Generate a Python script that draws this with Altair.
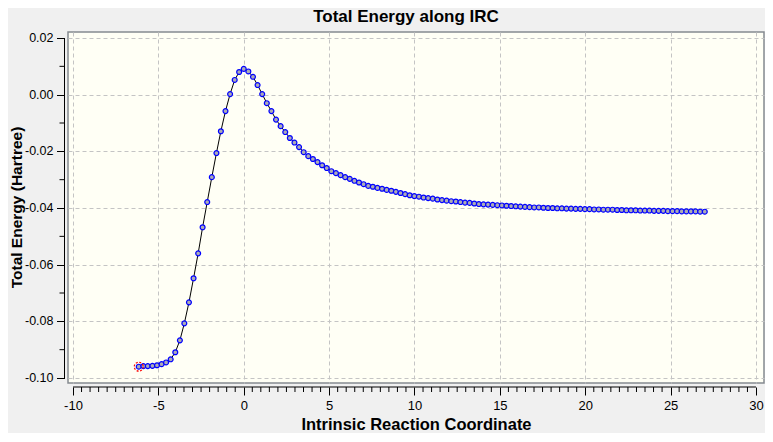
import altair as alt
import pandas as pd

# IRC points before the transition state (reactant side -> TS)
irc_before = [-6.15, -5.88, -5.62, -5.35, -5.08, -4.81, -4.55, -4.28, -4.01, -3.74,
              -3.48, -3.21, -2.94, -2.67, -2.41, -2.14, -1.87, -1.60, -1.34, -1.07,
              -0.80, -0.53, -0.27, 0.00]
energy_before = [-0.0960, -0.0958, -0.0958, -0.0957, -0.0955, -0.0951, -0.0945, -0.0934, -0.0909, -0.0867,
                 -0.0807, -0.0733, -0.0648, -0.0560, -0.0468, -0.0379, -0.0291, -0.0206, -0.0129, -0.0058,
                 0.0002, 0.0052, 0.0080, 0.0091]

# IRC points after the transition state (TS -> product side)
irc_after = [0.27, 0.54, 0.81, 1.08, 1.35, 1.62, 1.89, 2.16, 2.43, 2.70,
             2.97, 3.24, 3.51, 3.78, 4.05, 4.32, 4.59, 4.86, 5.13, 5.40,
             5.67, 5.94, 6.21, 6.48, 6.75, 7.02, 7.29, 7.56, 7.83, 8.10,
             8.37, 8.64, 8.91, 9.18, 9.45, 9.72, 9.99, 10.26, 10.53, 10.80,
             11.07, 11.34, 11.61, 11.88, 12.15, 12.42, 12.69, 12.96, 13.23, 13.50,
             13.77, 14.04, 14.31, 14.58, 14.85, 15.12, 15.39, 15.66, 15.93, 16.20,
             16.47, 16.74, 17.01, 17.28, 17.55, 17.82, 18.09, 18.36, 18.63, 18.90,
             19.17, 19.44, 19.71, 19.98, 20.25, 20.52, 20.79, 21.06, 21.33, 21.60,
             21.87, 22.14, 22.41, 22.68, 22.95, 23.22, 23.49, 23.76, 24.03, 24.30,
             24.57, 24.84, 25.11, 25.38, 25.65, 25.92, 26.19, 26.46, 26.73, 27.00]
energy_after = [0.0082, 0.0063, 0.0034, 0.0002, -0.0030, -0.0058, -0.0088, -0.0111, -0.0132, -0.0153,
                -0.0169, -0.0185, -0.0203, -0.0217, -0.0227, -0.0238, -0.0249, -0.0259, -0.0270, -0.0277,
                -0.0284, -0.0291, -0.0297, -0.0304, -0.0310, -0.0316, -0.0322, -0.0325, -0.0329, -0.0332,
                -0.0336, -0.0339, -0.0343, -0.0347, -0.0351, -0.0355, -0.0358, -0.0360, -0.0363, -0.0365,
                -0.0367, -0.0370, -0.0372, -0.0374, -0.0376, -0.0377, -0.0379, -0.0381, -0.0382, -0.0384,
                -0.0386, -0.0387, -0.0388, -0.0389, -0.0390, -0.0391, -0.0392, -0.0393, -0.0394, -0.0395,
                -0.0396, -0.0397, -0.0398, -0.0398, -0.0399, -0.0400, -0.0400, -0.0401, -0.0401, -0.0402,
                -0.0402, -0.0403, -0.0403, -0.0404, -0.0404, -0.0405, -0.0405, -0.0406, -0.0406, -0.0406,
                -0.0407, -0.0407, -0.0408, -0.0408, -0.0408, -0.0409, -0.0409, -0.0409, -0.0410, -0.0410,
                -0.0410, -0.0411, -0.0411, -0.0411, -0.0412, -0.0412, -0.0412, -0.0412, -0.0413, -0.0413]

# axis tick positions and labels
x_major = [-10, -5, 0, 5, 10, 15, 20, 25, 30]
x_minor = [v / 2 for v in range(-20, 61) if v % 10 != 0]
y_major = [-0.10, -0.08, -0.06, -0.04, -0.02, 0.00, 0.02]
y_labels = ["-0.10", "-0.08", "-0.06", "-0.04", "-0.02", "0.00", "0.02"]
y_minor = [-0.09, -0.07, -0.05, -0.03, -0.01, 0.01]
y_title = ["Total Energy (Hartree)"]

FONT = "Liberation Sans"
W, H = 696, 351
XOFF, YOFF = 4, 3.5

df = pd.DataFrame({"irc": irc_before + irc_after,
                   "energy": energy_before + energy_after})
df["idx"] = range(len(df))
start_df = df.iloc[[0]]

xs = alt.Scale(domain=[-10.293, 30.469], nice=False, zero=False)
ys = alt.Scale(domain=[-0.10176, 0.02212], nice=False, zero=False)

xaxis = alt.Axis(values=x_major, grid=True, gridDash=[4, 3], gridColor="#C4C4C4",
                 domain=False, tickSize=8, tickColor="black", offset=XOFF,
                 labelFont=FONT, labelFontSize=13, labelColor="black", labelPadding=4,
                 labelFlush=False, labelOverlap=False,
                 labelExpr="replace(datum.label, '\u2212', '-')",
                 title="Intrinsic Reaction Coordinate", titleFont=FONT, titleFontSize=16.5,
                 titleFontWeight="bold", titleColor="black", titlePadding=4)
yaxis = alt.Axis(values=y_major, grid=True, gridDash=[4, 3], gridColor="#C4C4C4",
                 domain=False, tickSize=8, tickColor="black", offset=YOFF,
                 labels=False, title=None)

base = alt.Chart(df).encode(
    x=alt.X("irc:Q", scale=xs, axis=xaxis),
    y=alt.Y("energy:Q", scale=ys, axis=yaxis),
    order="idx:Q",
)
line = base.mark_line(color="black", strokeWidth=1)
pts = base.mark_point(shape="circle", fill="#ABABB5", stroke="#0000FF",
                      strokeWidth=1.2, size=24, opacity=1, fillOpacity=1)
start = alt.Chart(start_df).mark_point(shape="circle", fill=None, stroke="#FF0000",
                                       strokeWidth=1.2, strokeDash=[2, 1.5], size=80, opacity=1).encode(
    x=alt.X("irc:Q", scale=xs, axis=xaxis),
    y=alt.Y("energy:Q", scale=ys, axis=yaxis),
)

# axis lines and minor ticks (positions through the scales)
xline = alt.Chart(pd.DataFrame({"a": [x_major[0]], "b": [x_major[-1]]})).mark_rule(
    color="black", strokeWidth=1).encode(
    x=alt.X("a:Q", scale=xs, axis=xaxis), x2="b:Q", y=alt.value(H + XOFF))
yline = alt.Chart(pd.DataFrame({"a": [y_major[-1]], "b": [y_major[0]]})).mark_rule(
    color="black", strokeWidth=1).encode(
    y=alt.Y("a:Q", scale=ys, axis=yaxis), y2="b:Q", x=alt.value(-YOFF))
xminor = alt.Chart(pd.DataFrame({"v": x_minor})).mark_rule(color="black", strokeWidth=1).encode(
    x=alt.X("v:Q", scale=xs, axis=xaxis), y=alt.value(H + XOFF), y2=alt.value(H + XOFF + 5))
yminor = alt.Chart(pd.DataFrame({"v": y_minor})).mark_rule(color="black", strokeWidth=1).encode(
    y=alt.Y("v:Q", scale=ys, axis=yaxis), x=alt.value(-YOFF), x2=alt.value(-YOFF - 5))

# y tick labels as text marks placed through the y scale
ylab = alt.Chart(pd.DataFrame({"v": y_major, "t": y_labels})).mark_text(
    font=FONT, fontSize=12.5, color="black", align="right", baseline="middle").encode(
    y=alt.Y("v:Q", scale=ys, axis=yaxis), x=alt.value(-YOFF - 8 - 3), text="t:N")

# y-axis title as a rotated text mark
ytitle = alt.Chart(pd.DataFrame({"t": y_title})).mark_text(
    angle=270, font=FONT, fontSize=15.5, fontWeight="bold", color="black",
    align="center", baseline="alphabetic").encode(
    text="t:N", x=alt.value(-46), y=alt.value(H / 2))

chart = alt.layer(line, pts, start, xline, yline, xminor, yminor, ylab, ytitle).properties(
    width=W, height=H,
    autosize=alt.AutoSizeParams(type="none"),
    padding={"left": 60, "top": 24, "right": 1, "bottom": 50},
    background="#F0F0F0",
    title=alt.TitleParams("Total Energy along IRC", font=FONT, fontSize=17, fontWeight="bold",
                          color="black", anchor="middle", dx=-10, dy=-2),
).configure_view(fill="#FFFFF5", stroke="#858A90", strokeWidth=1.5)

chart.save("out.html", embed_options={"renderer": "svg", "actions": False})
